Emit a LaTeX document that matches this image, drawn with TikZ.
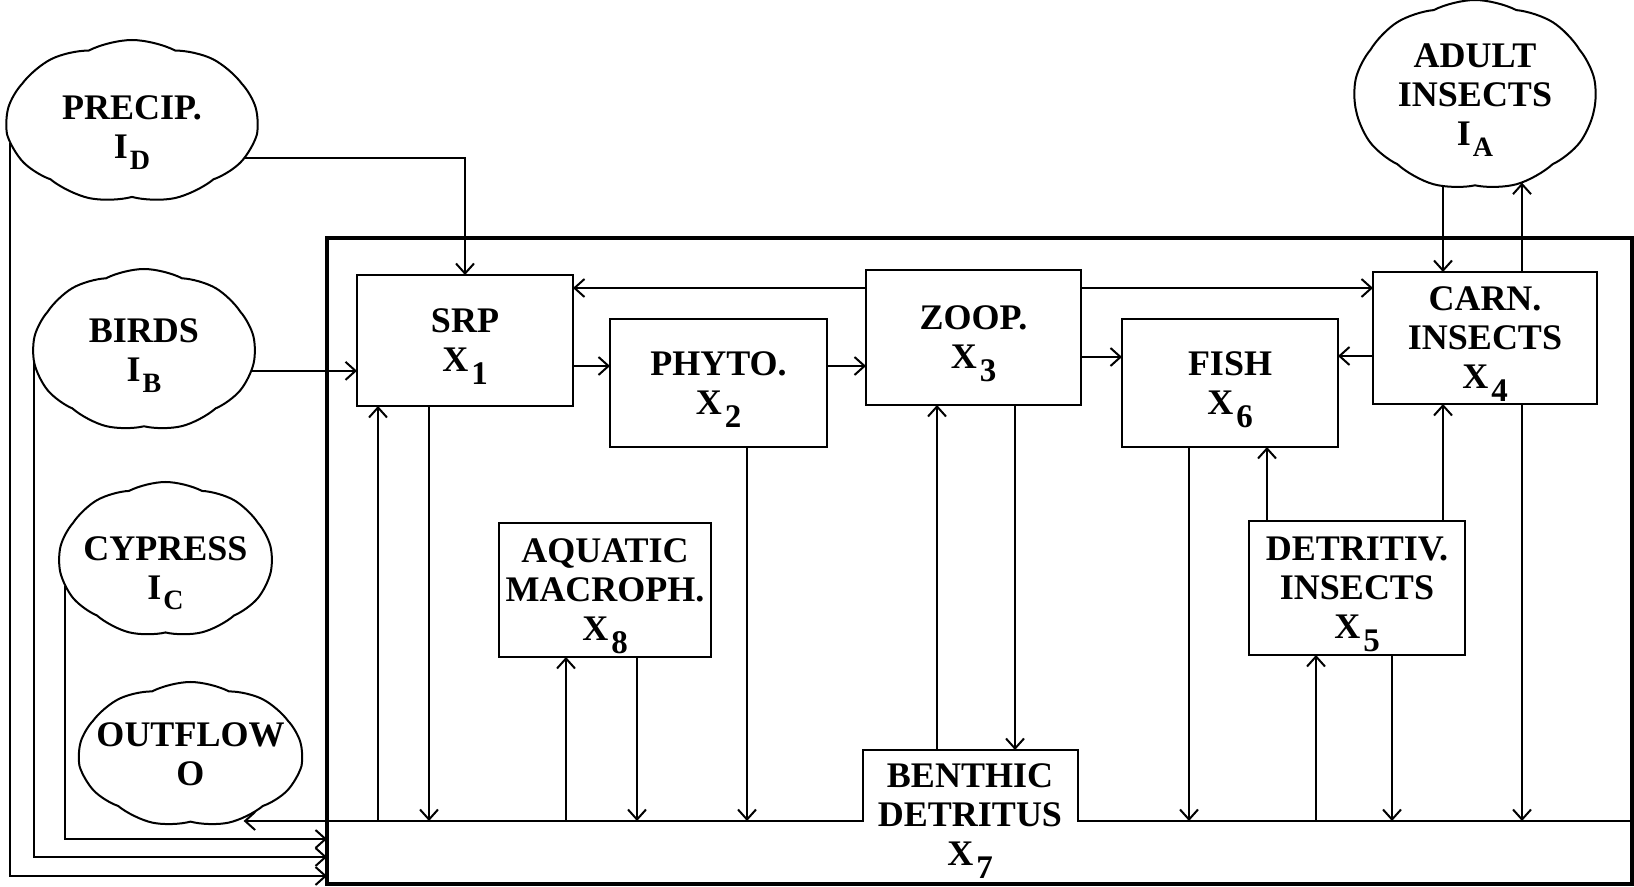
\documentclass[tikz,border=0pt]{standalone}
\usepackage{fontspec}
\setmainfont{Liberation Serif}
\usetikzlibrary{arrows.meta,shapes.symbols}
\newcommand{\txt}{\bfseries\fontsize{18}{19.5}\selectfont}
\newcommand{\dsub}[1]{\kern1.5pt\raisebox{-6.5pt}[0pt][0pt]{\fontsize{16.5}{16.5}\selectfont #1}}
\newcommand{\lsub}[1]{\kern1pt\raisebox{-5.5pt}[0pt][0pt]{\fontsize{14}{14}\selectfont #1}}
\begin{document}
\begin{tikzpicture}[x=0.5pt,y=-0.5pt,
  box/.style={draw, rectangle, line width=1pt, inner sep=0pt, outer sep=0pt, align=center, font=\txt},
  cl/.style={draw, cloud, cloud puffs=9, cloud puff arc=55, cloud ignores aspect, line width=1pt, inner xsep=-12pt, inner ysep=-4pt, outer sep=0pt, align=center, font=\txt},
  frame/.style={draw, rectangle, line width=1.7pt, inner sep=0pt, outer sep=0pt},
  zone/.style={rectangle, inner sep=0pt, outer sep=0pt},
  arr/.style={line width=1pt, -{Straight Barb[length=5pt,width=9pt]}},
  ln/.style={line width=1pt}]
\useasboundingbox (0,0) rectangle (1634,887);

% system frame and benthic detritus zone
\node[frame, minimum width=652.5pt, minimum height=323pt] (sys) at (979.5,561) {};
\node[zone, minimum width=652.5pt, minimum height=31.5pt] (bar) at (979.5,852.5) {};
\node[zone, minimum width=107.5pt, minimum height=35.5pt] (bentop) at (970.5,785.5) {};
\draw[ln] (bar.north west) -- (bentop.south west) -- (bentop.north west) -- (bentop.north east) -- (bentop.south east) -- (bar.north east);
\node[font=\txt, align=center, inner sep=0pt, anchor=north] (benthic) at (970,763) {BENTHIC\\DETRITUS\\X\dsub{7}};

% compartments
\node[box, minimum width=108pt, minimum height=65.5pt] (srp) at (465,340.5) {SRP\\X\dsub{1}};
\node[box, minimum width=108.5pt, minimum height=64pt] (phyto) at (718.5,383) {PHYTO.\\X\dsub{2}};
\node[box, minimum width=107.5pt, minimum height=67.5pt] (zoop) at (973.5,337.5) {ZOOP.\\X\dsub{3}};
\node[box, minimum width=108pt, minimum height=64pt] (fish) at (1230,383) {FISH\\X\dsub{6}};
\node[box, minimum width=112pt, minimum height=66pt] (carn) at (1485,338) {CARN.\\INSECTS\\X\dsub{4}};
\node[box, minimum width=106pt, minimum height=67pt] (aqua) at (605,590) {AQUATIC\\MACROPH.\\X\dsub{8}};
\node[box, minimum width=108pt, minimum height=67pt] (detr) at (1357,588) {DETRITIV.\\INSECTS\\X\dsub{5}};

% external clouds
\node[cl, minimum width=125.5pt, minimum height=81.5pt] (precip) at (132,121.5) {\rule{0pt}{17.5pt}PRECIP.\\I\lsub{D}};
\node[cl, minimum width=111pt, minimum height=81pt] (birds) at (144,350) {BIRDS\\I\lsub{B}};
\node[cl, minimum width=106.5pt, minimum height=77.5pt] (cypress) at (165.5,559.5) {\rule{0pt}{20pt}CYPRESS\\I\lsub{C}};
\node[cl, minimum width=111.5pt, minimum height=72.5pt] (outflow) at (190.5,754.5) {OUTFLOW\\O};
\node[cl, minimum width=121pt, minimum height=95pt] (adult) at (1475,95) {ADULT\\INSECTS\\I\lsub{A}};

% reference levels
\coordinate (yP) at (0,876);
\coordinate (yB) at (0,857);
\coordinate (yC) at (0,839);
\coordinate (h1) at (0,288);
\coordinate (h2) at (0,366);
\coordinate (h3) at (0,357);
\coordinate (h4) at (0,356);
\coordinate (v1) at (378,0);
\coordinate (v2) at (429,0);
\coordinate (v3) at (566,0);
\coordinate (v4) at (637,0);
\coordinate (v5) at (747,0);
\coordinate (v6) at (937,0);
\coordinate (v7) at (1015,0);
\coordinate (v8) at (1189,0);
\coordinate (v9) at (1267,0);
\coordinate (v10) at (1316,0);
\coordinate (v11) at (1392,0);
\coordinate (v12) at (1443,0);
\coordinate (v13) at (1522,0);

% inputs from clouds
\draw[arr] (precip.-18) -| (srp.north);
\draw[arr] (birds.-11) -- (birds.-11 -| srp.west);
\draw[arr] (precip.190) |- (sys.west |- yP);
\draw[arr] (birds.185) |- (sys.west |- yB);
\draw[arr] (cypress.195) |- (sys.west |- yC);
\draw[arr] (bar.north west) -- (bar.north west -| outflow.-50);
\draw[arr] (v12 |- adult.251) -- (v12 |- carn.north);
\draw[arr] (v13 |- carn.north) -- (v13 |- adult.-62);

% horizontal flows
\draw[arr] (zoop.west |- h1) -- (srp.east |- h1);
\draw[arr] (zoop.east |- h1) -- (carn.west |- h1);
\draw[arr] (srp.east |- h2) -- (phyto.west |- h2);
\draw[arr] (phyto.east |- h2) -- (zoop.west |- h2);
\draw[arr] (zoop.east |- h3) -- (fish.west |- h3);
\draw[arr] (carn.west |- h4) -- (fish.east |- h4);

% vertical flows
\draw[arr] (v1 |- bar.north) -- (v1 |- srp.south);
\draw[arr] (v2 |- srp.south) -- (v2 |- bar.north);
\draw[arr] (v3 |- bar.north) -- (v3 |- aqua.south);
\draw[arr] (v4 |- aqua.south) -- (v4 |- bar.north);
\draw[arr] (v5 |- phyto.south) -- (v5 |- bar.north);
\draw[arr] (v6 |- bentop.north) -- (v6 |- zoop.south);
\draw[arr] (v7 |- zoop.south) -- (v7 |- bentop.north);
\draw[arr] (v8 |- fish.south) -- (v8 |- bar.north);
\draw[arr] (v9 |- detr.north) -- (v9 |- fish.south);
\draw[arr] (v10 |- bar.north) -- (v10 |- detr.south);
\draw[arr] (v11 |- detr.south) -- (v11 |- bar.north);
\draw[arr] (v12 |- detr.north) -- (v12 |- carn.south);
\draw[arr] (v13 |- carn.south) -- (v13 |- bar.north);
\end{tikzpicture}
\end{document}
